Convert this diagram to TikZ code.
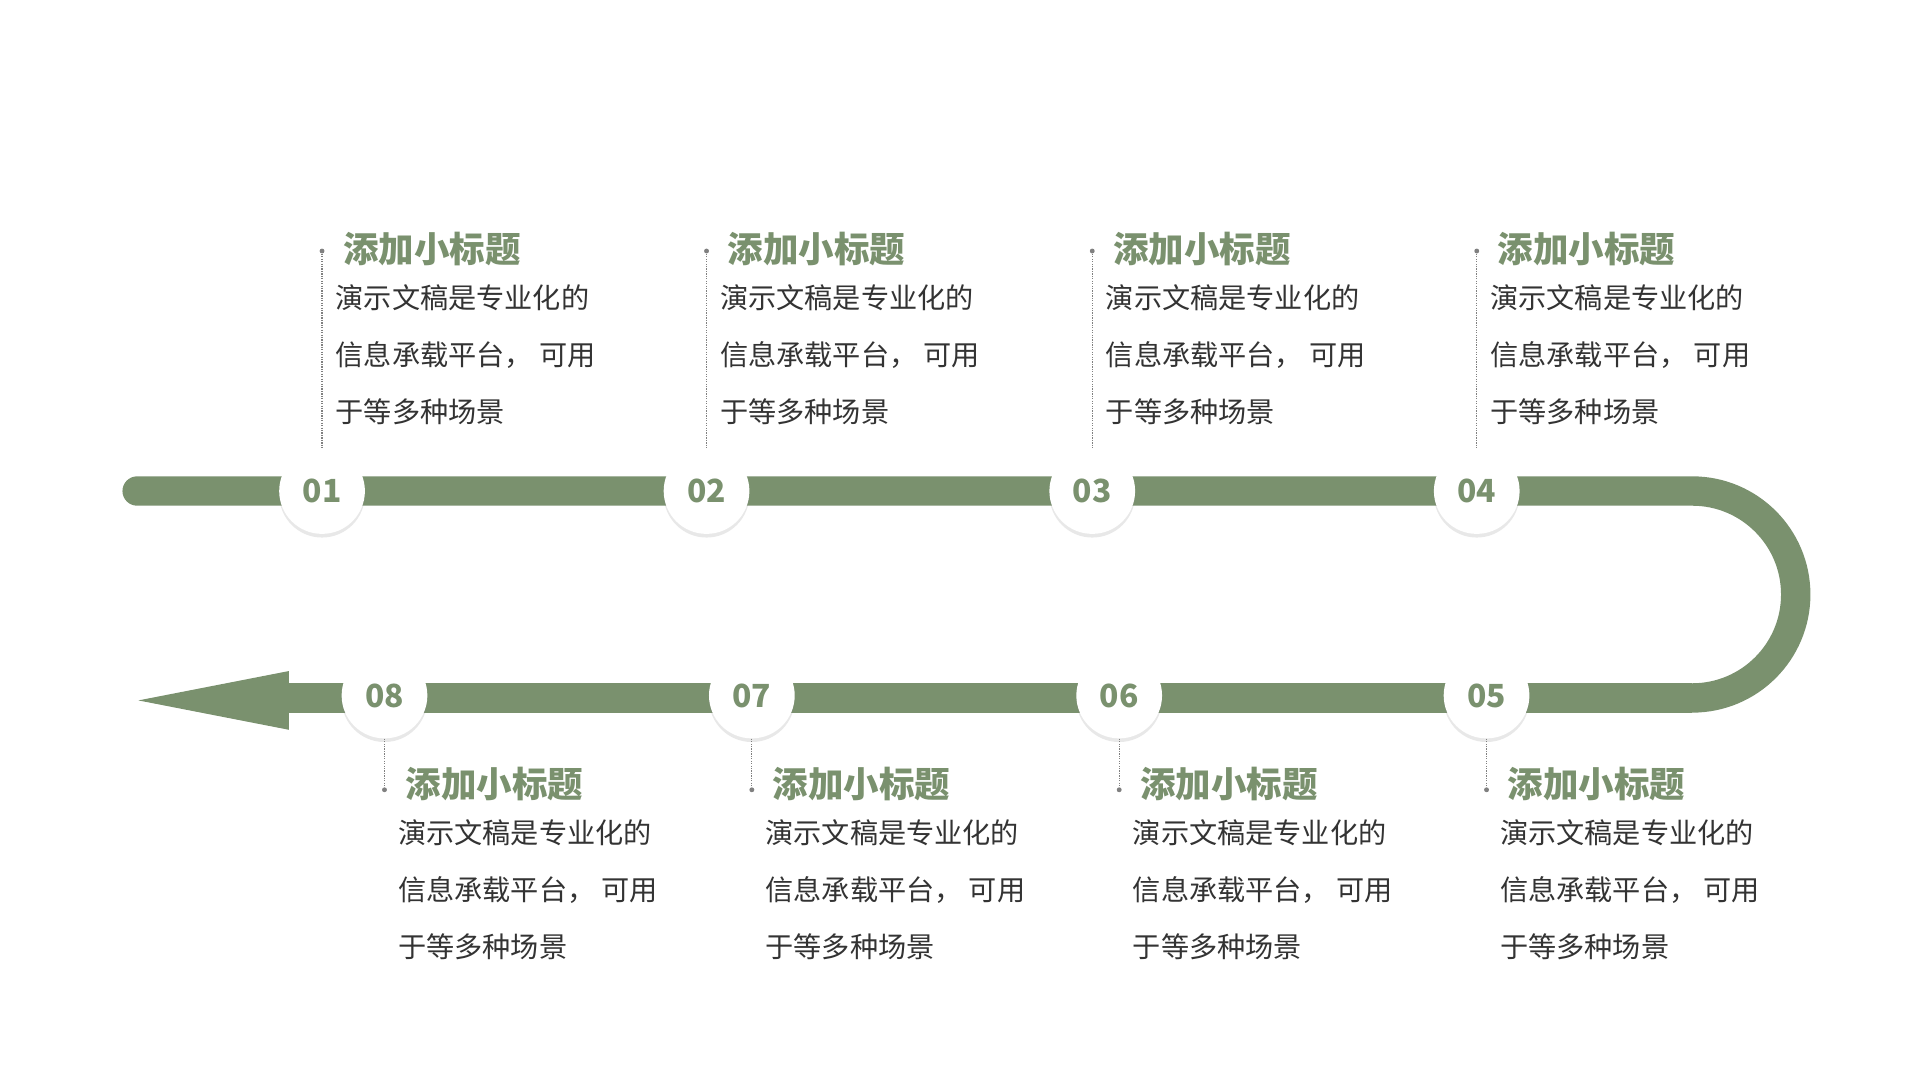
\documentclass[tikz,border=0pt]{standalone}
\usepackage{fontspec}
\setmainfont{Noto Sans CJK SC}
\usetikzlibrary{shadows}
\definecolor{gr}{HTML}{7A916E}
\definecolor{tx}{HTML}{333333}
\begin{document}
\begin{tikzpicture}[x=1pt,y=-1pt,
  num/.style={circle,fill=white,minimum size=70pt,inner sep=0pt,text=gr,font=\fontsize{26}{26}\selectfont\bfseries,
    drop shadow={opacity=0.18,shadow xshift=0pt,shadow yshift=-3pt,fill=gray}},
  ttl/.style={anchor=west,text=gr,font=\fontsize{29}{29}\selectfont\bfseries,inner sep=0pt},
  bod/.style={anchor=north west,text=tx,align=left,font=\fontsize{23}{46.5}\selectfont,inner sep=0pt},
  dl/.style={gray,densely dotted,line width=1pt},
  dt/.style={circle,fill=gray,inner sep=0pt,minimum size=4pt}]
\useasboundingbox (0,0) rectangle (1568,882);
\draw[gr,line width=24pt,line cap=round] (112,401) -- (1382,401) arc[start angle=-90,end angle=90,radius=84.5];
\draw[gr,line width=24pt] (1382,570) -- (230,570);
\fill[gr] (113,572) -- (236,548) -- (236,596) -- cycle;
\def\txt{演示文稿是专业化的\\信息承载平台，\ 可用\\于等多种场景}
\foreach \i/\x in {1/263,2/577,3/892,4/1206}{
  \node[dt] (d\i) at (\x,205) {};
  \node[num] (n\i) at (\x,401) {0\i};
  \draw[dl] (d\i) -- (n\i);
  \node[ttl] (t\i) at (\x+17,203) {添加小标题};
  \node[bod] (b\i) at (\x+11,232) {\txt};
}
\foreach \i/\x in {8/314,7/614,6/914,5/1214}{
  \node[dt] (d\i) at (\x,645) {};
  \node[num] (n\i) at (\x,568) {0\i};
  \draw[dl] (n\i) -- (d\i);
  \node[ttl] (t\i) at (\x+17,640) {添加小标题};
  \node[bod] (b\i) at (\x+11,669) {\txt};
}
\end{tikzpicture}
\end{document}
